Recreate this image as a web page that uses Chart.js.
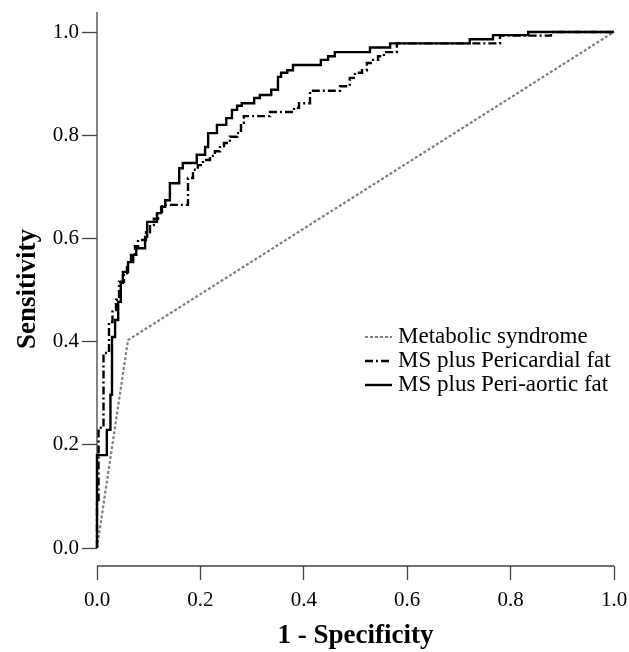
<!DOCTYPE html>
<html><head><meta charset="utf-8">
<script src="https://cdn.jsdelivr.net/npm/chart.js@4/dist/chart.umd.min.js"></script>
<style>html,body{margin:0;padding:0;background:#fff;}</style>
</head><body>
<canvas id="c" width="629" height="652"></canvas>
<script>
const seriesNames = ["Metabolic syndrome", "MS plus Pericardial fat", "MS plus Peri-aortic fat"];
const xTickValues = [0, 0.2, 0.4, 0.6, 0.8, 1.0];
const yTickValues = [0, 0.2, 0.4, 0.6, 0.8, 1.0];

const metabolicX = [0, 0.06, 1];
const metabolicY = [0, 0.403, 1];

const pericardialX = [0,0,0.003,0.003,0.0126,0.0126,0.0232,0.0232,0.030,0.030,0.0368,0.0368,0.0426,0.0426,0.0522,0.0522,0.058,0.058,0.0658,0.0658,0.0735,0.0735,0.0793,0.0793,0.0948,0.0948,0.1025,0.1025,0.110,0.110,0.118,0.118,0.1257,0.1257,0.176,0.176,0.1857,0.1857,0.195,0.195,0.205,0.205,0.2186,0.2186,0.228,0.228,0.238,0.238,0.2456,0.2456,0.257,0.257,0.271,0.271,0.2785,0.2785,0.284,0.284,0.3346,0.3346,0.381,0.381,0.3907,0.3907,0.412,0.412,0.470,0.470,0.489,0.489,0.499,0.499,0.5126,0.5126,0.522,0.522,0.534,0.534,0.5435,0.5435,0.555,0.555,0.580,0.580,0.7795,0.7795,0.878,0.878,1];
const pericardialY = [0,0.093,0.093,0.233,0.233,0.378,0.378,0.438,0.438,0.461,0.461,0.481,0.481,0.516,0.516,0.533,0.533,0.552,0.552,0.568,0.568,0.585,0.585,0.597,0.597,0.612,0.612,0.626,0.626,0.638,0.638,0.649,0.649,0.665,0.665,0.717,0.717,0.733,0.733,0.742,0.742,0.752,0.752,0.760,0.760,0.769,0.769,0.779,0.779,0.785,0.785,0.797,0.797,0.804,0.804,0.824,0.824,0.837,0.837,0.845,0.845,0.853,0.853,0.862,0.862,0.886,0.886,0.895,0.895,0.911,0.911,0.921,0.921,0.926,0.926,0.940,0.940,0.946,0.946,0.953,0.953,0.961,0.961,0.978,0.978,0.993,0.993,1,1];

const aorticX = [0,0,0.019,0.019,0.026,0.026,0.029,0.029,0.035,0.035,0.041,0.041,0.046,0.046,0.050,0.050,0.060,0.060,0.070,0.070,0.076,0.076,0.093,0.093,0.097,0.097,0.116,0.116,0.124,0.124,0.132,0.132,0.141,0.141,0.159,0.159,0.166,0.166,0.193,0.193,0.209,0.209,0.215,0.215,0.232,0.232,0.250,0.250,0.261,0.261,0.271,0.271,0.280,0.280,0.304,0.304,0.315,0.315,0.337,0.337,0.350,0.350,0.356,0.356,0.368,0.368,0.379,0.379,0.433,0.433,0.447,0.447,0.460,0.460,0.528,0.528,0.567,0.567,0.721,0.721,0.766,0.766,0.834,0.834,1];
const aorticY = [0,0.180,0.180,0.229,0.229,0.297,0.297,0.409,0.409,0.442,0.442,0.477,0.477,0.514,0.514,0.535,0.535,0.554,0.554,0.568,0.568,0.581,0.581,0.603,0.603,0.632,0.632,0.649,0.649,0.661,0.661,0.674,0.674,0.707,0.707,0.736,0.736,0.746,0.746,0.762,0.762,0.777,0.777,0.804,0.804,0.820,0.820,0.833,0.833,0.849,0.849,0.857,0.857,0.862,0.862,0.872,0.872,0.878,0.878,0.888,0.888,0.913,0.913,0.921,0.921,0.926,0.926,0.936,0.936,0.946,0.946,0.953,0.953,0.961,0.961,0.970,0.970,0.978,0.978,0.986,0.986,0.994,0.994,1,1];

const toPts = (xs, ys) => xs.map((x, i) => ({x: x, y: ys[i]}));
const FONT = '"Liberation Serif", "Times New Roman", serif';

const styles = [
  {color: '#808080', width: 2.2, dash: [3, 2]},
  {color: '#000000', width: 2.4, dash: [8, 3, 2, 3]},
  {color: '#000000', width: 2.4, dash: []}
];

const axisAndLegend = {
  id: 'axisAndLegend',
  beforeDatasetsDraw(chart) {
    const ctx = chart.ctx, xs = chart.scales.x, ys = chart.scales.y, a = chart.chartArea;
    ctx.save();
    ctx.strokeStyle = '#444';
    ctx.lineWidth = 1.3;
    ctx.beginPath();
    ctx.moveTo(a.left, a.top);
    ctx.lineTo(a.left, ys.getPixelForValue(0));
    ctx.moveTo(xs.getPixelForValue(0), a.bottom);
    ctx.lineTo(xs.getPixelForValue(1), a.bottom);
    ctx.stroke();
    ctx.restore();
  },
  afterDatasetsDraw(chart) {
    const ctx = chart.ctx;
    const lx = 365, tx = 398, y0 = 337, dy = 24;
    ctx.save();
    seriesNames.forEach((name, i) => {
      const y = y0 + i * dy;
      const s = styles[i];
      ctx.strokeStyle = s.color;
      ctx.lineWidth = s.width;
      ctx.setLineDash(s.dash);
      ctx.beginPath();
      ctx.moveTo(lx, y);
      ctx.lineTo(lx + 27, y);
      ctx.stroke();
      ctx.setLineDash([]);
      ctx.fillStyle = '#000';
      ctx.font = '23px ' + FONT;
      ctx.textBaseline = 'middle';
      ctx.textAlign = 'left';
      ctx.fillText(name, tx, y);
    });
    ctx.restore();
  }
};

const datasetsData = [toPts(metabolicX, metabolicY), toPts(pericardialX, pericardialY), toPts(aorticX, aorticY)];

const noPad = s => { s.paddingLeft = 0; s.paddingRight = 0; s.paddingTop = 0; s.paddingBottom = 0; };

new Chart(document.getElementById('c'), {
  type: 'line',
  data: {
    datasets: datasetsData.map((d, i) => ({
      label: seriesNames[i],
      data: d,
      borderColor: styles[i].color,
      borderWidth: styles[i].width,
      borderDash: styles[i].dash,
      pointRadius: 0,
      tension: 0,
      fill: false,
      clip: false,
      order: 3 - i
    }))
  },
  options: {
    responsive: false,
    animation: false,
    devicePixelRatio: 1,
    layout: {padding: {left: 0, right: 15, top: 12, bottom: 0}},
    plugins: {legend: {display: false}, tooltip: {enabled: false}},
    scales: {
      x: {
        type: 'linear', position: 'bottom', min: 0, max: 1,
        afterBuildTicks: s => { s.ticks = xTickValues.map(v => ({value: v})); },
        afterFit: s => { s.height = 86; noPad(s); },
        border: {display: false},
        grid: {drawOnChartArea: false, drawTicks: true, tickLength: 14, tickColor: '#444', tickWidth: 1.3},
        ticks: {color: '#000', padding: 8, maxRotation: 0, font: {family: FONT, size: 21}, callback: v => Number(v).toFixed(1)},
        title: {display: true, text: '1 - Specificity', color: '#000', font: {family: FONT, size: 27, weight: 'bold'}, padding: {top: 0, bottom: 0}}
      },
      y: {
        type: 'linear', position: 'left', min: -18/516, max: 1 + 20/516,
        afterBuildTicks: s => { s.ticks = yTickValues.map(v => ({value: v})); },
        afterFit: s => { s.width = 97; noPad(s); },
        border: {display: false},
        grid: {drawOnChartArea: false, drawTicks: true, tickLength: 15, tickColor: '#444', tickWidth: 1.3},
        ticks: {color: '#000', padding: 3, font: {family: FONT, size: 21}, callback: v => Number(v).toFixed(1)},
        title: {display: true, text: 'Sensitivity', color: '#000', font: {family: FONT, size: 27, weight: 'bold'}, padding: {top: 12, bottom: 0}}
      }
    }
  },
  plugins: [axisAndLegend]
});
</script>
</body></html>
